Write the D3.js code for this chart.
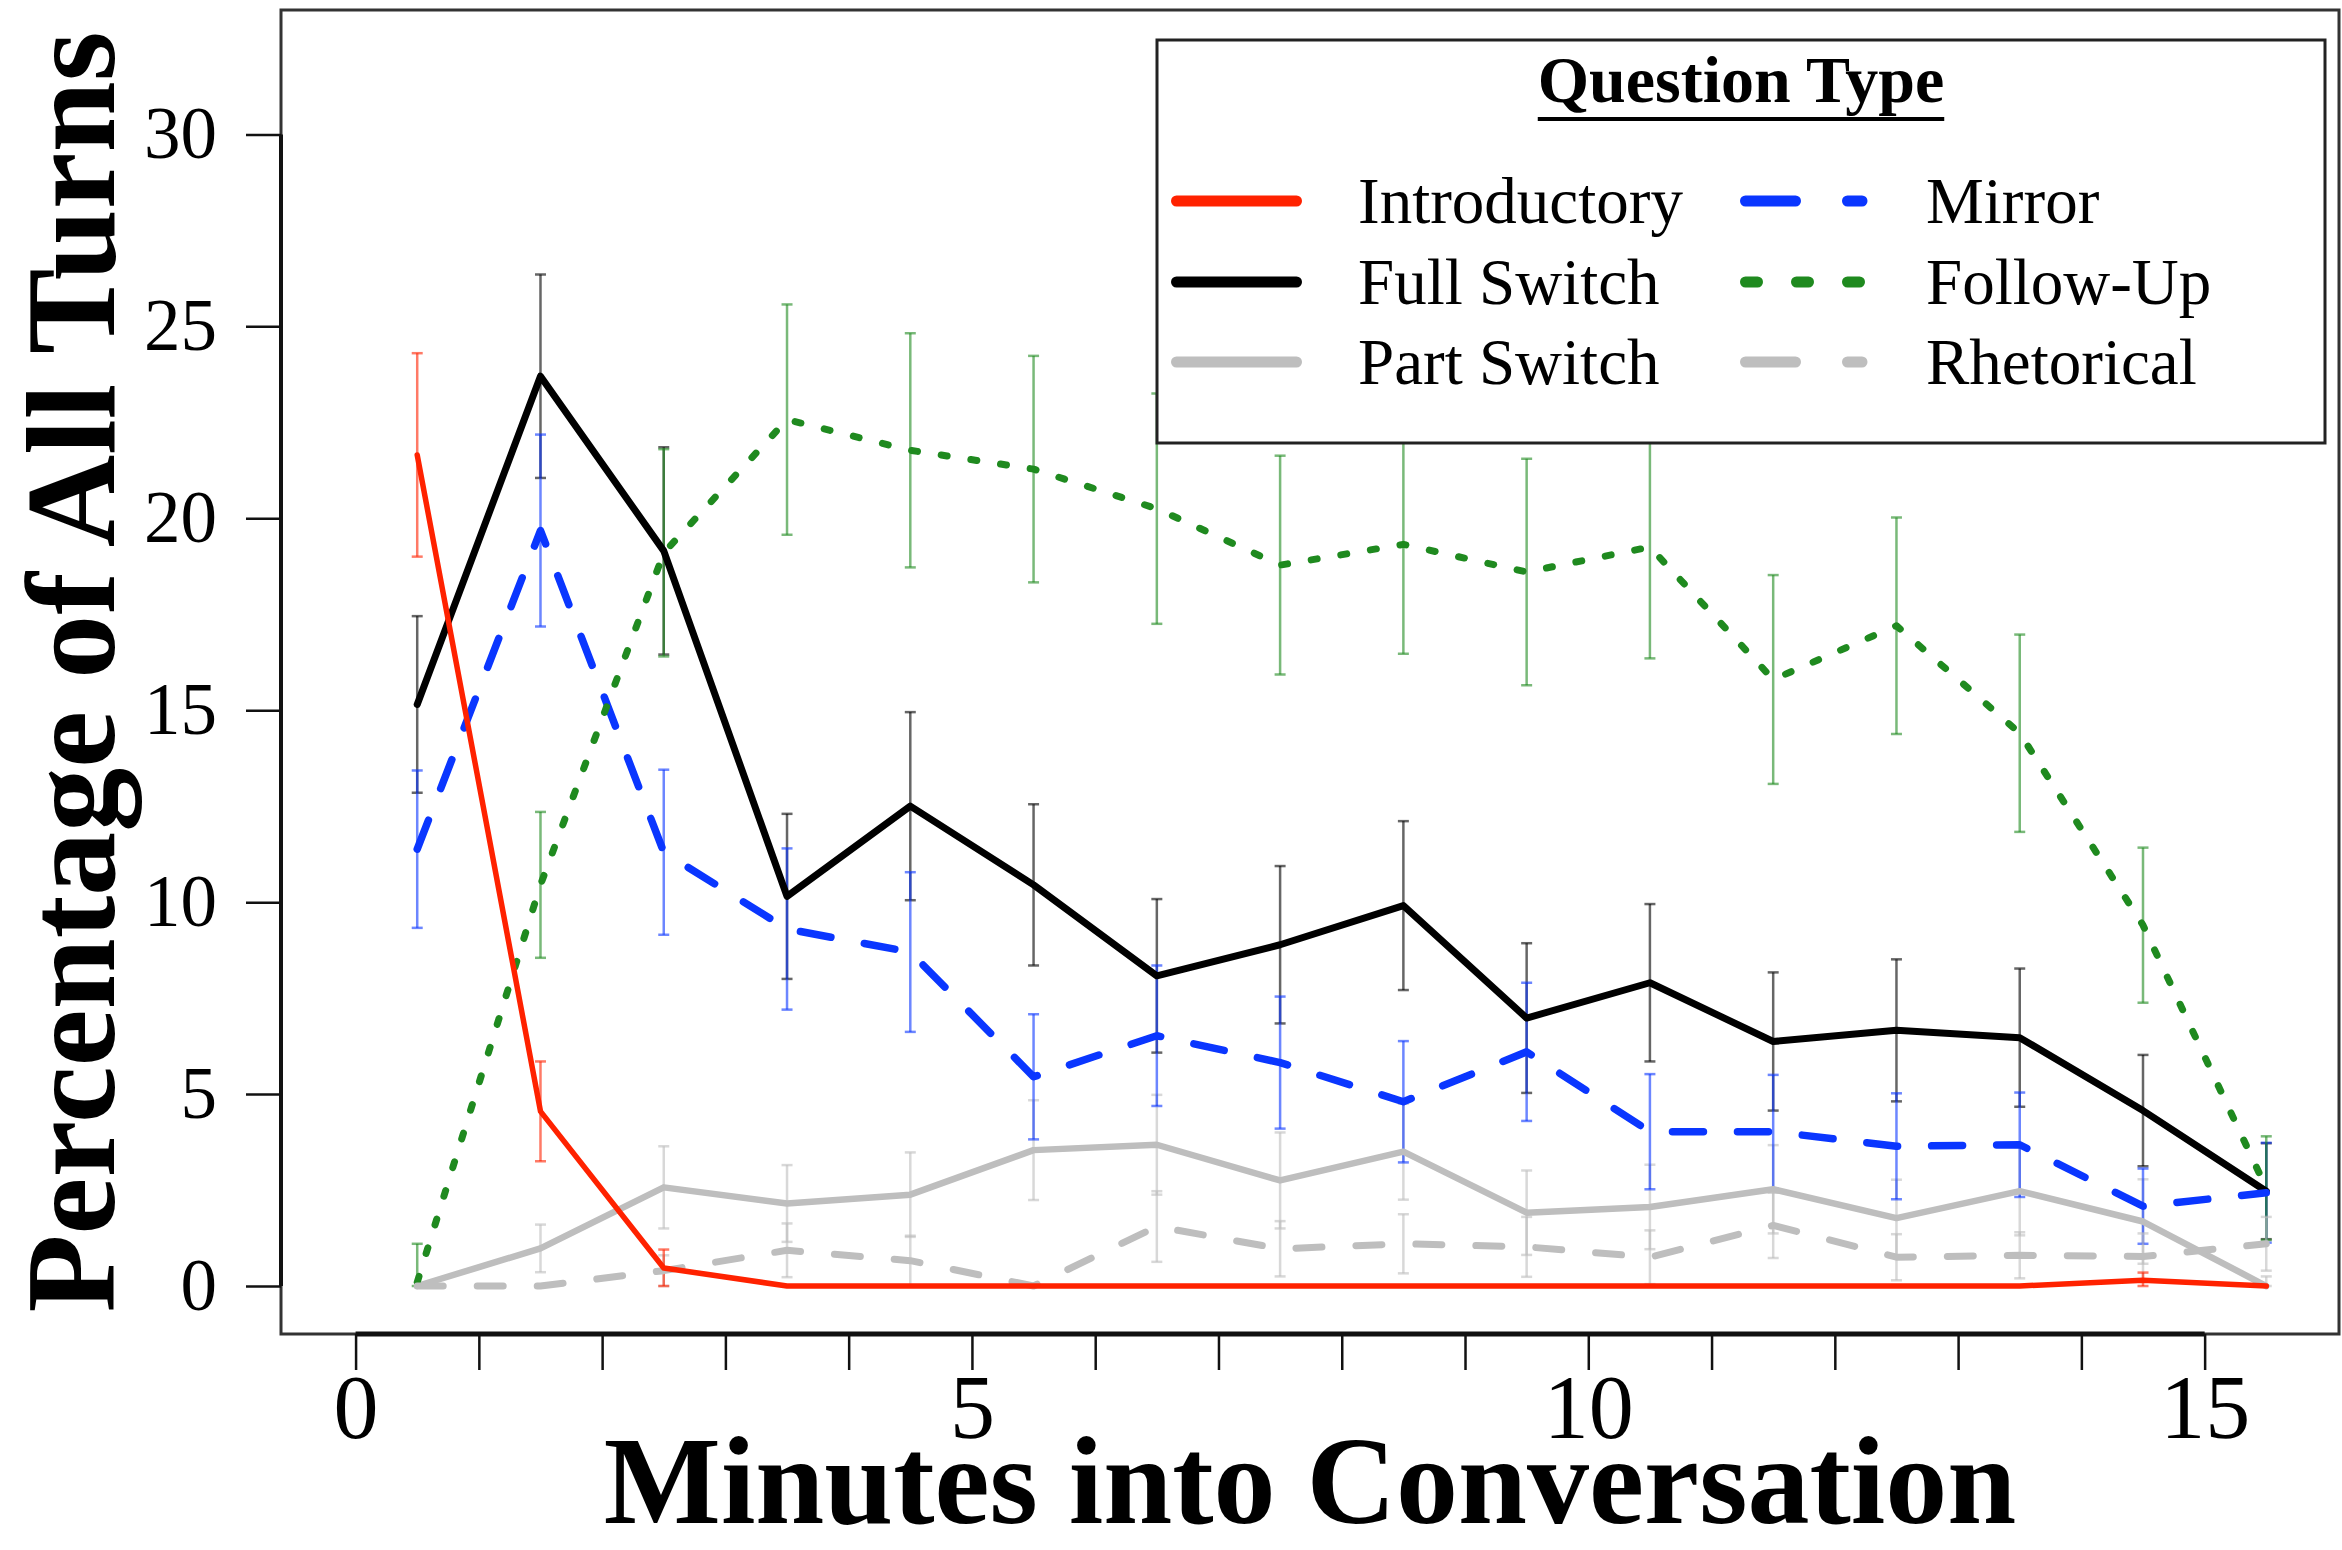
<!DOCTYPE html>
<html>
<head>
<meta charset="utf-8">
<script src="https://cdn.jsdelivr.net/npm/d3@7"></script>
<style>
  html, body { margin: 0; padding: 0; background: #fff; }
  svg { display: block; }
  text { font-family: "Liberation Serif", "Times New Roman", Times, serif; fill: #000; }
</style>
</head>
<body>
<svg id="chart" width="2342" height="1550"></svg>
<script>
// ---------------- data ----------------
const minutes = [0.5, 1.5, 2.5, 3.5, 4.5, 5.5, 6.5, 7.5, 8.5, 9.5, 10.5, 11.5, 12.5, 13.5, 14.5, 15.5];

const introductory    = [21.65, 4.55, 0.47, 0, 0, 0, 0, 0, 0, 0, 0, 0, 0, 0, 0.15, 0];
const introductoryErr = [2.65, 1.3, 0.48, 0, 0, 0, 0, 0, 0, 0, 0, 0, 0, 0, 0.2, 0];

const fullSwitch    = [15.15, 23.7, 19.15, 10.15, 12.5, 10.45, 8.08, 8.89, 9.91, 6.98, 7.9, 6.37, 6.66, 6.47, 4.57, 2.47];
const fullSwitchErr = [2.3, 2.65, 2.7, 2.15, 2.45, 2.1, 2.0, 2.05, 2.2, 1.95, 2.05, 1.8, 1.85, 1.8, 1.45, 1.25];

const partSwitch    = [0, 0.98, 2.57, 2.15, 2.38, 3.54, 3.68, 2.75, 3.5, 1.91, 2.06, 2.52, 1.77, 2.47, 1.68, 0];
const partSwitchErr = [0, 0.62, 1.07, 1.0, 1.1, 1.3, 1.3, 1.25, 1.25, 1.1, 1.1, 1.15, 1.0, 1.15, 1.1, 0.25];

const mirror    = [11.38, 19.68, 11.3, 9.3, 8.7, 5.45, 6.52, 5.82, 4.8, 6.1, 4.02, 4.02, 3.64, 3.68, 2.08, 2.43];
const mirrorErr = [2.05, 2.5, 2.15, 2.1, 2.08, 1.63, 1.83, 1.72, 1.58, 1.8, 1.5, 1.48, 1.38, 1.36, 0.98, 1.3];

const followUp    = [0.1, 10.45, 19.1, 22.57, 21.77, 21.28, 20.25, 18.78, 19.32, 18.6, 19.25, 15.8, 17.2, 14.4, 9.4, 2.55];
const followUpErr = [1.0, 1.9, 2.7, 3.0, 3.05, 2.95, 3.0, 2.85, 2.85, 2.95, 2.9, 2.72, 2.82, 2.57, 2.02, 1.35];

const rhetorical    = [0, 0, 0.4, 0.93, 0.66, 0, 1.55, 0.97, 1.1, 1.02, 0.75, 1.58, 0.75, 0.8, 0.77, 1.1];
const rhetoricalErr = [0, 0, 0.4, 0.7, 0.65, 0, 0.92, 0.72, 0.77, 0.78, 0.7, 0.85, 0.6, 0.6, 0.6, 0.7];

const xTicks = [0, 1, 2, 3, 4, 5, 6, 7, 8, 9, 10, 11, 12, 13, 14, 15];
const xTickLabels = ["0", "", "", "", "", "5", "", "", "", "", "10", "", "", "", "", "15"];
const yTicks = [0, 5, 10, 15, 20, 25, 30];

const legendTitle = "Question Type";
const xTitle = "Minutes into Conversation";
const yTitle = "Percentage of All Turns";

// ---------------- styles ----------------
const series = [
  { name: "Full Switch",  values: fullSwitch,   err: fullSwitchErr,   color: "#000000", width: 7,   dash: null,    legDash: null,    col: 0, row: 1 },
  { name: "Part Switch",  values: partSwitch,   err: partSwitchErr,   color: "#bebebe", width: 6.5, dash: null,    legDash: null,    col: 0, row: 2 },
  { name: "Mirror",       values: mirror,       err: mirrorErr,       color: "#0a36ff", width: 7.5, dash: "31,34", legDash: "50,52", col: 1, row: 0 },
  { name: "Follow-Up",    values: followUp,     err: followUpErr,     color: "#1f8a1f", width: 7,   dash: "6,24",  legDash: "12,39", col: 1, row: 1 },
  { name: "Rhetorical",   values: rhetorical,   err: rhetoricalErr,   color: "#bebebe", width: 7,   dash: "26,34", legDash: "50,52", col: 1, row: 2 },
  { name: "Introductory", values: introductory, err: introductoryErr, color: "#ff2200", width: 5.5, dash: null,    legDash: null,    col: 0, row: 0 }
];

const svg = d3.select("#chart");
const plot = { left: 281, top: 10, right: 2339, bottom: 1334 };

const x = d3.scaleLinear().domain([-0.605, 16.09]).range([plot.left, plot.right]);
const y = d3.scaleLinear().domain([-1.25, 33.24]).range([plot.bottom, plot.top]);

// ---------------- error bars ----------------
const errG = svg.append("g");
series.forEach(s => {
  const g = errG.append("g").attr("stroke", s.color).attr("stroke-opacity", 0.6).attr("stroke-width", 2.5);
  minutes.forEach((m, i) => {
    const e = s.err[i];
    if (!(e > 0)) return;
    const lo = Math.max(0, s.values[i] - e), hi = s.values[i] + e;
    const cx = x(m);
    g.append("line").attr("x1", cx).attr("x2", cx).attr("y1", y(lo)).attr("y2", y(hi));
    g.append("line").attr("x1", cx - 5.5).attr("x2", cx + 5.5).attr("y1", y(lo)).attr("y2", y(lo));
    g.append("line").attr("x1", cx - 5.5).attr("x2", cx + 5.5).attr("y1", y(hi)).attr("y2", y(hi));
  });
});

// ---------------- lines ----------------
const line = d3.line().x((d, i) => x(minutes[i])).y(d => y(d));
series.forEach(s => {
  svg.append("path")
    .attr("d", line(s.values))
    .attr("fill", "none")
    .attr("stroke", s.color)
    .attr("stroke-width", s.width)
    .attr("stroke-linejoin", "round")
    .attr("stroke-linecap", "round")
    .attr("stroke-dasharray", s.dash);
});

// ---------------- box ----------------
svg.append("rect")
  .attr("x", plot.left).attr("y", plot.top)
  .attr("width", plot.right - plot.left).attr("height", plot.bottom - plot.top)
  .attr("fill", "none").attr("stroke", "#333").attr("stroke-width", 3);

// ---------------- axes ----------------
const xAxis = d3.axisBottom(x).tickValues(xTicks).tickSize(36).tickPadding(4)
  .tickFormat((d, i) => xTickLabels[i]);
const gx = svg.append("g").attr("transform", `translate(0,${plot.bottom})`).call(xAxis);
gx.select(".domain").remove();
gx.selectAll(".tick line").attr("stroke", "#111").attr("stroke-width", 2.5);
gx.selectAll(".tick text").attr("font-size", 90).attr("font-family", "Liberation Serif, serif").attr("fill", "#000");
gx.append("line").attr("x1", x(0)).attr("x2", x(15)).attr("y1", 0).attr("y2", 0)
  .attr("stroke", "#111").attr("stroke-width", 5);

const yAxis = d3.axisLeft(y).tickValues(yTicks).tickSize(35).tickPadding(29);
const gy = svg.append("g").attr("transform", `translate(${plot.left},0)`).call(yAxis);
gy.select(".domain").remove();
gy.selectAll(".tick line").attr("stroke", "#111").attr("stroke-width", 2.5);
gy.selectAll(".tick text").attr("font-size", 73).attr("font-family", "Liberation Serif, serif").attr("fill", "#000");
gy.append("line").attr("x1", 0).attr("x2", 0).attr("y1", y(0)).attr("y2", y(30))
  .attr("stroke", "#111").attr("stroke-width", 4);

// ---------------- titles ----------------
svg.append("text")
  .attr("x", (plot.left + plot.right) / 2).attr("y", 1523)
  .attr("text-anchor", "middle").attr("font-weight", "bold").attr("font-size", 124)
  .text(xTitle);

svg.append("text")
  .attr("transform", `translate(114,${(plot.top + plot.bottom) / 2}) rotate(-90)`)
  .attr("text-anchor", "middle").attr("font-weight", "bold").attr("font-size", 128)
  .text(yTitle);

// ---------------- legend ----------------
const leg = svg.append("g");
leg.append("rect").attr("x", 1157).attr("y", 40).attr("width", 1168).attr("height", 403)
  .attr("fill", "#fff").attr("stroke", "#222").attr("stroke-width", 3);
const lt = leg.append("text").attr("x", 1741).attr("y", 102).attr("text-anchor", "middle")
  .attr("font-weight", "bold").attr("font-size", 66).text(legendTitle);
const bb = lt.node().getBBox();
leg.append("line").attr("x1", bb.x).attr("x2", bb.x + bb.width).attr("y1", 119).attr("y2", 119)
  .attr("stroke", "#000").attr("stroke-width", 4);

const rowY = [201, 282, 362];
const colLine = [[1176.5, 1296.5], [1745.5, 1862]];
const colText = [1358, 1926];
series.forEach(s => {
  const ly = rowY[s.row];
  leg.append("line")
    .attr("x1", colLine[s.col][0]).attr("x2", colLine[s.col][1])
    .attr("y1", ly).attr("y2", ly)
    .attr("stroke", s.color).attr("stroke-width", 11).attr("stroke-linecap", "round")
    .attr("stroke-dasharray", s.legDash);
  leg.append("text").attr("x", colText[s.col]).attr("y", ly + 22)
    .attr("font-size", 65).text(s.name);
});
</script>
</body>
</html>
